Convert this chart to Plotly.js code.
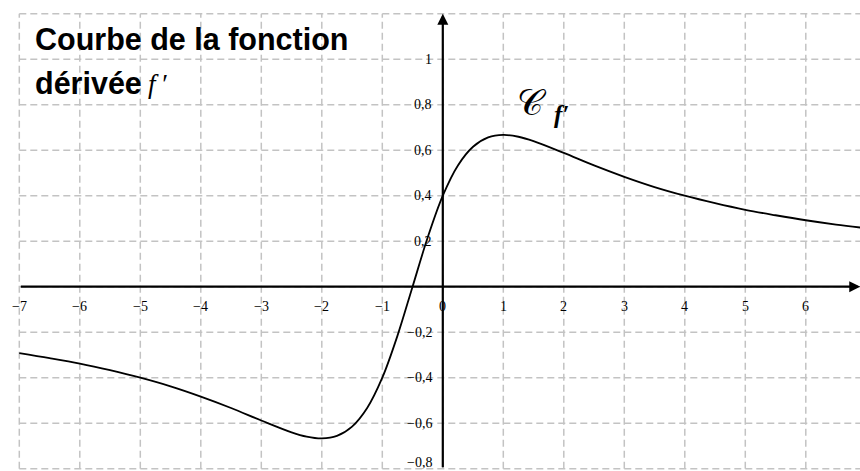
<!DOCTYPE html>
<html><head><meta charset="utf-8">
<script src="https://cdn.plot.ly/plotly-3.0.1.min.js"></script>
<style>html,body{margin:0;padding:0;background:#fff}</style>
</head><body><div id="chart" style="width:860px;height:471px"></div>
<script>
// Curve of f'
const curveX = [-7, -6.5, -6, -5.5, -5, -4.5, -4, -3.5, -3, -2.5, -2.25, -2, -1.75, -1.5, -1.25, -1, -0.75, -0.5, -0.25, 0, 0.25, 0.5, 0.75, 1, 1.25, 1.5, 2, 2.5, 3, 3.5, 4, 4.5, 5, 5.5, 6, 6.5, 6.9];
const curveY = [-0.292, -0.314, -0.338, -0.367, -0.400, -0.438, -0.483, -0.533, -0.588, -0.640, -0.659, -0.667, -0.656, -0.615, -0.533, -0.400, -0.216, 0, 0.216, 0.400, 0.533, 0.615, 0.656, 0.667, 0.659, 0.640, 0.588, 0.533, 0.483, 0.438, 0.400, 0.367, 0.338, 0.314, 0.292, 0.273, 0.260];

const xTicks = [-7, -6, -5, -4, -3, -2, -1, 0, 1, 2, 3, 4, 5, 6];
const xTickLabels = ['−7', '−6', '−5', '−4', '−3', '−2', '−1', '0', '1', '2', '3', '4', '5', '6'];
const yTicks = [-0.8, -0.6, -0.4, -0.2, 0.2, 0.4, 0.6, 0.8, 1];
const yTickLabels = ['−0,8', '−0,6', '−0,4', '−0,2', '0,2', '0,4', '0,6', '0,8', '1'];
const gridX = [-7, -6, -5, -4, -3, -2, -1, 0, 1, 2, 3, 4, 5, 6];
const gridY = [-0.8, -0.6, -0.4, -0.2, 0, 0.2, 0.4, 0.6, 0.8, 1, 1.2];
const xLimits = [-7, 6.9];
const yLimits = [-0.8, 1.2];

const gridStyle = {color: '#c3c3c3', width: 1.5, dash: '7px,4px'};
const shapes = [];
gridX.forEach(v => shapes.push({type: 'line', xref: 'x', yref: 'y', x0: v, x1: v, y0: yLimits[0], y1: yLimits[1], line: gridStyle, layer: 'below'}));
gridY.forEach(v => shapes.push({type: 'line', xref: 'x', yref: 'y', x0: xLimits[0], x1: xLimits[1] + 0.1, y0: v, y1: v, line: gridStyle, layer: 'below'}));

const tickFont = {family: '"Liberation Serif", "DejaVu Serif", serif', size: 14, color: '#000'};
const annotations = [];
xTicks.forEach((v, i) => annotations.push({x: v, y: 0, xref: 'x', yref: 'y', text: xTickLabels[i], showarrow: false, xanchor: 'center', yanchor: 'middle', yshift: -20, font: tickFont}));
yTicks.forEach((v, i) => annotations.push({x: 0, y: v, xref: 'x', yref: 'y', text: yTickLabels[i], showarrow: false, xanchor: 'right', yanchor: 'middle', xshift: -9, yshift: (v === -0.8 ? 6 : 0), font: tickFont}));

// axes with arrows
annotations.push({x: xLimits[1], y: 0, ax: xLimits[0], ay: 0, xref: 'x', yref: 'y', axref: 'x', ayref: 'y', text: '', showarrow: true, arrowhead: 2, arrowsize: 1, arrowwidth: 2.2, arrowcolor: '#000', standoff: 0});
annotations.push({x: 0, y: yLimits[1], ax: 0, ay: yLimits[0], xref: 'x', yref: 'y', axref: 'x', ayref: 'y', text: '', showarrow: true, arrowhead: 2, arrowsize: 1, arrowwidth: 2.2, arrowcolor: '#000', standoff: 0});

// title
const titleFont = {family: '"Liberation Sans", Arial, sans-serif', size: 30.5, color: '#000'};
annotations.push({xref: 'paper', yref: 'paper', x: 33 / 860, y: 1 - 39 / 471, xanchor: 'left', yanchor: 'middle', showarrow: false, text: '<b>Courbe de la fonction</b>', font: titleFont});
annotations.push({xref: 'paper', yref: 'paper', x: 33 / 860, y: 1 - 83 / 471, xanchor: 'left', yanchor: 'middle', showarrow: false, text: '<b>dérivée</b>', font: titleFont});
annotations.push({xref: 'paper', yref: 'paper', x: 146 / 860, y: 1 - 84 / 471, xanchor: 'left', yanchor: 'middle', showarrow: false, text: '<i>f</i> ′', font: {family: '"Liberation Serif", serif', size: 27, color: '#000'}});

// curve label
annotations.push({x: 1.48, y: 0.81, xref: 'x', yref: 'y', text: '𝒞', showarrow: false, xanchor: 'center', yanchor: 'middle', font: {family: '"DejaVu Serif", serif', size: 36, color: '#000'}});
annotations.push({x: 1.97, y: 0.755, xref: 'x', yref: 'y', text: '<b><i>f′</i></b>', showarrow: false, xanchor: 'center', yanchor: 'middle', font: {family: '"Liberation Serif", serif', size: 25, color: '#000'}});

const data = [{
  x: curveX, y: curveY, type: 'scatter', mode: 'lines',
  line: {color: '#000', width: 1.8, shape: 'spline', smoothing: 1},
  hoverinfo: 'skip'
}];

const layout = {
  width: 860, height: 471,
  margin: {l: 0, r: 0, t: 0, b: 0, pad: 0},
  paper_bgcolor: '#fff', plot_bgcolor: '#fff',
  showlegend: false,
  xaxis: {range: [-7.319, 6.896], visible: false, fixedrange: true},
  yaxis: {range: [-0.810, 1.260], visible: false, fixedrange: true},
  shapes: shapes,
  annotations: annotations
};

Plotly.newPlot('chart', data, layout, {staticPlot: true, displayModeBar: false});
</script></body></html>
